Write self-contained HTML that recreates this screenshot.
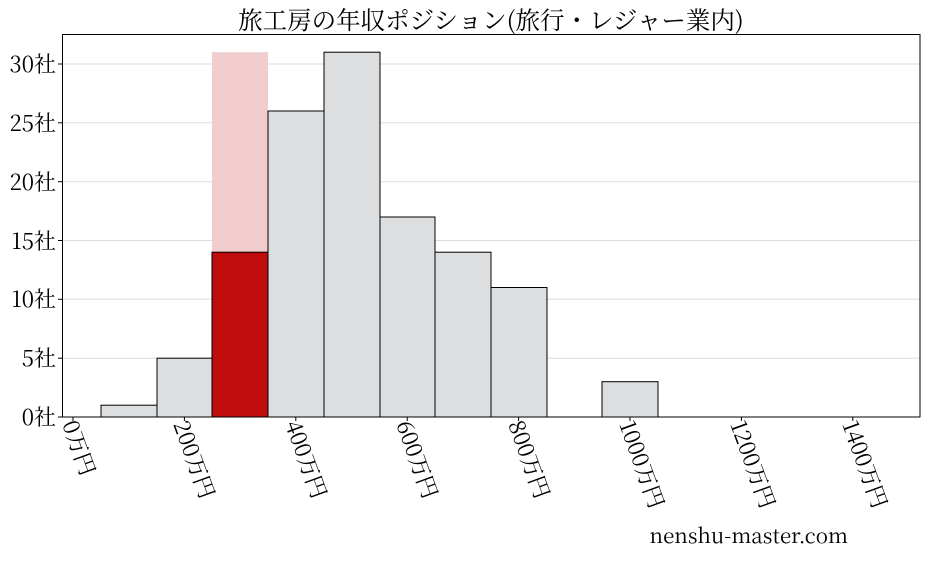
<!DOCTYPE html>
<html><head><meta charset="utf-8"><style>
body{margin:0;background:#fff;}
text{font-family:"Noto Serif CJK JP","Noto Serif CJK SC","Liberation Serif",serif;fill:#000;}
</style></head><body>
<svg width="928" height="557" viewBox="0 0 928 557" xmlns="http://www.w3.org/2000/svg">
<rect width="928" height="557" fill="#fff"/>
<text x="491" y="29" font-size="24.5" text-anchor="middle">旅工房の年収ポジション(旅行・レジャー業内)</text>
<g stroke="#ddd" stroke-width="1">
<line x1="62" x2="920" y1="358.2" y2="358.2"/>
<line x1="62" x2="920" y1="299.3" y2="299.3"/>
<line x1="62" x2="920" y1="240.5" y2="240.5"/>
<line x1="62" x2="920" y1="181.7" y2="181.7"/>
<line x1="62" x2="920" y1="122.8" y2="122.8"/>
<line x1="62" x2="920" y1="64" y2="64"/>
</g>
<rect x="212" y="52.2" width="56" height="364.8" fill="#f0cccc"/>
<g stroke="#000" stroke-width="1" fill="#dddee0">
<rect x="101" y="405.2" width="56" height="11.8"/>
<rect x="157" y="358.2" width="55" height="58.8"/>
<rect x="212" y="252.2" width="56" height="164.8" fill="#c00c0c"/>
<rect x="268" y="111" width="56" height="306"/>
<rect x="324" y="52.2" width="56" height="364.8"/>
<rect x="380" y="217" width="55" height="200"/>
<rect x="435" y="252.2" width="56" height="164.8"/>
<rect x="491" y="287.5" width="56" height="129.5"/>
<rect x="602" y="381.7" width="56" height="35.3"/>
</g>
<rect x="62.5" y="34.5" width="857.5" height="382.5" fill="none" stroke="#000"/>
<g font-size="22" text-anchor="end">
<text x="56" y="425">0社</text>
<text x="56" y="366">5社</text>
<text x="56" y="307">10社</text>
<text x="56" y="249">15社</text>
<text x="56" y="190">20社</text>
<text x="56" y="131">25社</text>
<text x="56" y="72">30社</text>
</g>
<g stroke="#000"><line x1="58" x2="62" y1="417" y2="417"/><line x1="58" x2="62" y1="358.2" y2="358.2"/><line x1="58" x2="62" y1="299.3" y2="299.3"/><line x1="58" x2="62" y1="240.5" y2="240.5"/><line x1="58" x2="62" y1="181.7" y2="181.7"/><line x1="58" x2="62" y1="122.8" y2="122.8"/><line x1="58" x2="62" y1="64" y2="64"/>
<line x1="73" x2="73" y1="417" y2="421"/><line x1="184.4" x2="184.4" y1="417" y2="421"/><line x1="295.8" x2="295.8" y1="417" y2="421"/><line x1="407.2" x2="407.2" y1="417" y2="421"/><line x1="518.6" x2="518.6" y1="417" y2="421"/><line x1="630" x2="630" y1="417" y2="421"/><line x1="741.4" x2="741.4" y1="417" y2="421"/><line x1="852.8" x2="852.8" y1="417" y2="421"/></g>
<g font-size="22">
<text transform="translate(62,424) rotate(70)">0万円</text>
<text transform="translate(173,424) rotate(70)">200万円</text>
<text transform="translate(285,424) rotate(70)">400万円</text>
<text transform="translate(396,424) rotate(70)">600万円</text>
<text transform="translate(508,424) rotate(70)">800万円</text>
<text transform="translate(619,424) rotate(70)">1000万円</text>
<text transform="translate(730,424) rotate(70)">1200万円</text>
<text transform="translate(842,424) rotate(70)">1400万円</text>
</g>
<text x="848" y="543" font-size="20.5" text-anchor="end">nenshu-master.com</text>
</svg>
</body></html>
